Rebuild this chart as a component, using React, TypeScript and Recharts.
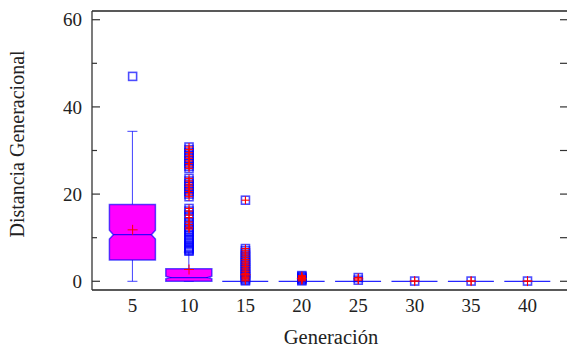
import React from "react";
import { ComposedChart, Bar, Scatter, XAxis, YAxis, ReferenceLine } from "recharts";

// domains
const Y_MIN = -2;
const Y_MAX = 62;
const X_MIN = 1.4;
const X_MAX = 43.5;

const generations = [5, 10, 15, 20, 25, 30, 35, 40];
const whiskerLow = [0, 0, 0, 0, 0, 0, 0, 0];
const q1 = [4.9, 0, 0, 0, 0, 0, 0, 0];
const notchLow = [9.7, 0.55, 0, 0, 0, 0, 0, 0];
const median = [10.7, 0.85, 0, 0, 0, 0, 0, 0];
const notchHigh = [11.7, 1.15, 0, 0, 0, 0, 0, 0];
const q3 = [17.6, 2.9, 0, 0, 0, 0, 0, 0];
const whiskerHigh = [34.4, 6.7, 0, 0, 0, 0, 0, 0];
const means = [11.8, 2.7, 1.5, 0.6, 0.55, 0.05, 0.05, 0.05];

const outliers5 = [47.0];
const outliers10 = [
  30.8, 30.2, 29.5, 28.8, 28.2, 27.6, 27.0, 26.4, 25.9,
  23.6, 23.0, 22.3, 21.8, 21.2, 20.6, 20.0, 19.4,
  16.7, 16.1, 15.2, 14.6, 13.6, 13.0, 12.4, 12.0, 11.5, 11.2, 10.6, 10.0,
  9.6, 9.2, 8.8, 8.4, 8.0, 7.7, 7.4, 7.1, 6.9,
];
const outliers15 = [
  18.6, 7.5, 7.0, 6.5, 6.0, 5.5, 5.0, 4.6, 4.2, 3.8, 3.4, 3.0, 2.6, 2.2,
  1.8, 1.5, 1.2, 0.9, 0.6, 0.3, 0.1,
];
const outliers20 = [1.3, 1.1, 0.9, 0.7, 0.5, 0.3, 0.1];
const outliers25 = [0.85, 0.25];
const outliers30 = [0.05];
const outliers35 = [0.05];
const outliers40 = [0.05];

const outlierLists = [
  outliers5, outliers10, outliers15, outliers20,
  outliers25, outliers30, outliers35, outliers40,
];

const yTicks = [0, 5, 10, 15, 20, 25, 30, 35, 40, 45, 50, 55, 60];

const boxData = generations.map((gen, i) => ({
  gen,
  lo: whiskerLow[i],
  q1: q1[i],
  nLo: notchLow[i],
  med: median[i],
  nHi: notchHigh[i],
  q3: q3[i],
  hi: whiskerHigh[i],
  span: [Y_MIN, Y_MAX],
}));

// far outside = beyond q3 + 3 IQR (gets the red plus)
const outlierData = generations.flatMap((gen, i) =>
  outlierLists[i].map((v) => ({
    gen,
    val: v,
    far: v > q3[i] + 3 * (q3[i] - q1[i]),
  }))
);
const farData = outlierData.filter((d) => d.far);

const meanData = generations.map((gen, i) => ({ gen, val: means[i] }));

const BLUE = "#0000ff";
const MAGENTA = "#ff00ff";
const RED = "#ff0000";
const FONT = "'Liberation Serif', 'Times New Roman', serif";

function BoxShape(props: any) {
  const { x, y, width, height, payload } = props;
  const toY = (v: number) => y + ((Y_MAX - v) / (Y_MAX - Y_MIN)) * height;
  const cx = x + width / 2;
  const h = 23;
  const n = 4;
  const p = payload;
  if (p.q3 <= p.q1) {
    return <line x1={cx - h} x2={cx + h} y1={toY(p.med)} y2={toY(p.med)} stroke={BLUE} strokeOpacity={0.85} strokeWidth={1.3} />;
  }
  const d = [
    `M${cx - h},${toY(p.q3)}`,
    `L${cx + h},${toY(p.q3)}`,
    `L${cx + h},${toY(p.nHi)}`,
    `L${cx + h - n},${toY(p.med)}`,
    `L${cx + h},${toY(p.nLo)}`,
    `L${cx + h},${toY(p.q1)}`,
    `L${cx - h},${toY(p.q1)}`,
    `L${cx - h},${toY(p.nLo)}`,
    `L${cx - h + n},${toY(p.med)}`,
    `L${cx - h},${toY(p.nHi)}`,
    "Z",
  ].join(" ");
  return (
    <g>
      <line x1={cx} x2={cx} y1={toY(p.q3)} y2={toY(p.hi)} stroke={BLUE} strokeOpacity={0.75} />
      <line x1={cx - 5} x2={cx + 5} y1={toY(p.hi)} y2={toY(p.hi)} stroke={BLUE} strokeOpacity={0.75} />
      <line x1={cx} x2={cx} y1={toY(p.q1)} y2={toY(p.lo)} stroke={BLUE} strokeOpacity={0.75} />
      <line x1={cx - 5} x2={cx + 5} y1={toY(p.lo)} y2={toY(p.lo)} stroke={BLUE} strokeOpacity={0.75} />
      <path d={d} fill={MAGENTA} stroke={BLUE} strokeOpacity={0.65} strokeWidth={1.5} />
      <line x1={cx - h + n} x2={cx + h - n} y1={toY(p.med)} y2={toY(p.med)} stroke={BLUE} strokeOpacity={0.8} strokeWidth={1.2} />
    </g>
  );
}

function SquareShape(props: any) {
  const { cx, cy } = props;
  return <rect x={cx - 4} y={cy - 4} width={8} height={8} fill="none" stroke={BLUE} strokeOpacity={0.7} strokeWidth={1.6} />;
}

function PlusShape(props: any) {
  const { cx, cy } = props;
  return (
    <g stroke={RED} strokeWidth={1.1}>
      <line x1={cx - 4} x2={cx + 4} y1={cy} y2={cy} />
      <line x1={cx} x2={cx} y1={cy - 4} y2={cy + 4} />
    </g>
  );
}

function MeanShape(props: any) {
  const { cx, cy } = props;
  return (
    <g stroke={RED} strokeWidth={1}>
      <line x1={cx - 5} x2={cx + 5} y1={cy} y2={cy} />
      <line x1={cx} x2={cx} y1={cy - 5} y2={cy + 5} />
    </g>
  );
}

function LeftTick(props: any) {
  const { x, y, payload } = props;
  const major = payload.value % 20 === 0;
  return (
    <g>
      {major && (
        <text x={x - 10} y={y} dy="0.35em" textAnchor="end" fontFamily={FONT} fontSize={19} fill="#222">
          {payload.value}
        </text>
      )}
      <line x1={x} x2={x + (major ? 8 : 5)} y1={y} y2={y} stroke="#333" strokeWidth={1.2} />
    </g>
  );
}

function RightTick(props: any) {
  const { x, y, payload } = props;
  const major = payload.value % 10 === 0;
  return <line x1={x - (major ? 7 : 3)} x2={x} y1={y} y2={y} stroke="#333" strokeWidth={1.2} />;
}

export default function App() {
  return (
    <div style={{ position: "absolute", left: 0, top: 0, width: 568, height: 349, background: "#fff" }}>
      <ComposedChart
        width={568}
        height={349}
        data={boxData}
        margin={{ top: 11, right: 0, bottom: 0, left: 0 }}
      >
        <XAxis
          dataKey="gen"
          type="number"
          domain={[X_MIN, X_MAX]}
          ticks={generations}
          allowDataOverflow
          height={59}
          tickLine={false}
          tickMargin={3}
          axisLine={{ stroke: "#222", strokeWidth: 1.5 }}
          tick={{ fontFamily: FONT, fontSize: 19, fill: "#222" }}
          label={{
            content: () => (
              <text
                x={331}
                y={344}
                textAnchor="middle"
                fontFamily={FONT}
                fontSize={20.5}
                fill="#222"
              >
                Generación
              </text>
            ),
          }}
        />
        <YAxis
          type="number"
          domain={[Y_MIN, Y_MAX]}
          ticks={yTicks}
          allowDataOverflow
          width={92}
          tickSize={0}
          tickMargin={0}
          tickLine={false}
          axisLine={{ stroke: "#333", strokeWidth: 1.3 }}
          tick={<LeftTick />}
          label={{
            content: () => (
              <text
                x={17}
                y={144}
                transform="rotate(-90 17 144)"
                textAnchor="middle"
                dominantBaseline="central"
                fontFamily={FONT}
                fontSize={20}
                fill="#222"
              >
                Distancia Generacional
              </text>
            ),
          }}
        />
        <YAxis
          yAxisId="right"
          orientation="right"
          type="number"
          domain={[Y_MIN, Y_MAX]}
          ticks={yTicks}
          allowDataOverflow
          width={1}
          tickSize={0}
          tickMargin={0}
          tickLine={false}
          axisLine={false}
          tick={<RightTick />}
        />
        <ReferenceLine y={Y_MAX} stroke="#222" strokeWidth={1.5} ifOverflow="extendDomain" />
        <Bar dataKey="span" barSize={46} shape={<BoxShape />} isAnimationActive={false} />
        <Scatter data={outlierData} dataKey="val" shape={<SquareShape />} isAnimationActive={false} />
        <Scatter data={farData} dataKey="val" shape={<PlusShape />} isAnimationActive={false} />
        <Scatter data={meanData} dataKey="val" shape={<MeanShape />} isAnimationActive={false} />
      </ComposedChart>
    </div>
  );
}
